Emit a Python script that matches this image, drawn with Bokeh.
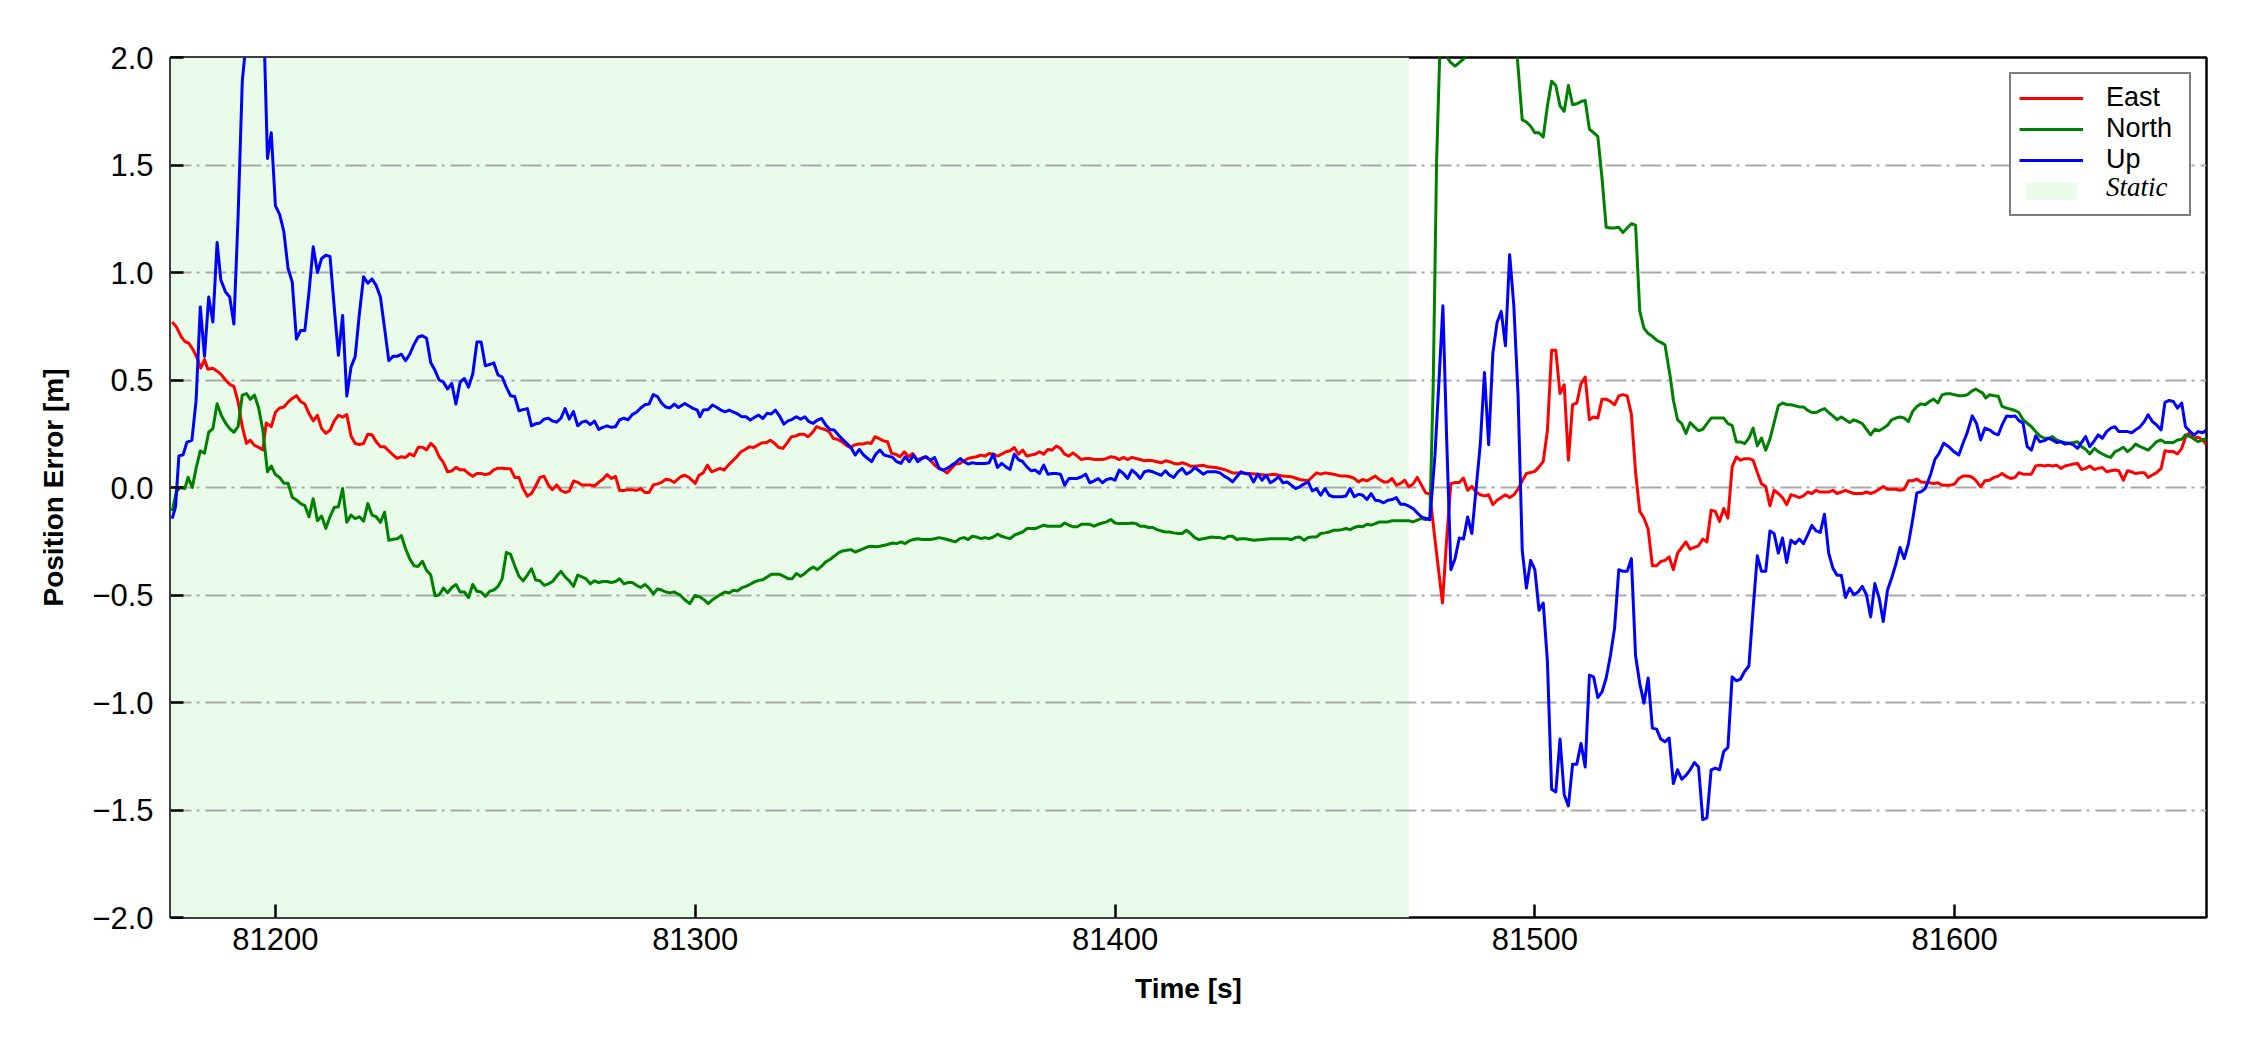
from bokeh.plotting import figure
from bokeh.models import (FixedTicker, CustomJSTickFormatter, Legend, LegendItem, Range1d)
from bokeh.embed import file_html
from bokeh.resources import INLINE

# ---------------- data ----------------
x_lim = [81175, 81660]
y_lim = [-2.0, 2.0]
x_ticks = [81200, 81300, 81400, 81500, 81600]
y_ticks = [-2.0, -1.5, -1.0, -0.5, 0.0, 0.5, 1.0, 1.5, 2.0]
static_span = [81175, 81470]
series_names = ["East", "North", "Up"]
series_colors = ["#ff0000", "#008000", "#0000ff"]
static_label = "Static"

east_t = [81175.4, 81176.4, 81177.6, 81178.4, 81179.4, 81180.4, 81181.4, 81182.2, 81183.1, 81183.9,
          81185.1, 81186.2, 81187.1, 81188.1, 81189.1, 81190.1, 81191.1, 81192.1, 81193.1, 81194,
          81195, 81196, 81197, 81197.8, 81199] + list(range(81200, 81296)) + [
          81296.5, 81297.5, 81298.5, 81300, 81300.9, 81301.9, 81302.9, 81303.9, 81304.9, 81305.9,
          81306.9, 81307.9, 81308.9, 81309.9, 81310.9, 81311.9, 81312.9, 81313.9, 81314.9, 81315.9,
          81316.9, 81317.9, 81318.9, 81319.9, 81320.9, 81321.9, 81322.9, 81323.9, 81324.9, 81325.9,
          81326.9, 81327.9, 81328.9, 81329.9, 81330.9, 81331.9, 81332.9, 81333.9, 81334.9, 81335.9,
          81336.9, 81337.9, 81338.9, 81339.9, 81340.9, 81341.9, 81342.8, 81343.8, 81344.8, 81345.8,
          81346.8, 81347.7, 81348.8, 81349.8, 81350.8, 81351.8, 81352.8, 81353.8, 81354.7, 81355.8,
          81356.7] + list(range(81357, 81419)) + [
          81419, 81421, 81422, 81424, 81426, 81428, 81430, 81432, 81434, 81436, 81438, 81440, 81442,
          81444] + list(range(81446, 81476)) + [81476.2, 81478] + list(range(81479, 81592)) + [
          81592, 81594] + list(range(81595, 81606)) + [
          81606.2, 81607.2, 81608.3, 81609.4, 81610.4, 81611.3, 81612.4, 81613.4, 81614.4, 81615.3,
          81616.3, 81617.3, 81618.3, 81619.3, 81620.3, 81621.4, 81622.3, 81623.3, 81624.3, 81625.3,
          81626.3, 81627.2, 81628.3, 81629.3, 81630.2, 81631.2, 81632.2, 81633.3, 81634.2, 81635.2,
          81636.2, 81637.2, 81638.2, 81639.1, 81640.2, 81641.2, 81642.2, 81643.1, 81644.2, 81645.2,
          81646.1, 81647.1, 81648.1, 81649.2, 81650.1, 81651.1, 81652.1, 81653.1, 81654.1, 81655,
          81656.1, 81657.1, 81658, 81659.1, 81660]
east_v = [0.77, 0.747, 0.70, 0.68, 0.67, 0.64, 0.60, 0.555, 0.595, 0.55,
          0.555, 0.54, 0.525, 0.50, 0.48, 0.47, 0.40, 0.283, 0.205, 0.22,
          0.196, 0.187, 0.175, 0.30, 0.283,
          # 81200..81295
          0.35, 0.37, 0.374, 0.397, 0.414, 0.427, 0.40, 0.388, 0.344, 0.31,
          0.336, 0.274, 0.252, 0.266, 0.31, 0.336, 0.327, 0.339, 0.24, 0.205,
          0.20, 0.205, 0.248, 0.245, 0.213, 0.19, 0.19, 0.17, 0.152, 0.135,
          0.143, 0.14, 0.157, 0.147, 0.187, 0.187, 0.175, 0.205, 0.187, 0.143,
          0.117, 0.073, 0.077, 0.094, 0.082, 0.082, 0.065, 0.052, 0.065, 0.065,
          0.06, 0.065, 0.082, 0.09, 0.09, 0.087, 0.087, 0.047, 0.047, -0.005,
          -0.04, -0.028, 0.007, 0.047, 0.052, 0.012, -0.01, 0.012, -0.014, -0.023,
          -0.017, 0.03, 0.024, 0.012, 0.012, 0.012, 0.007, 0.024, 0.038, 0.06,
          0.042, 0.052, -0.014, -0.014, -0.01, -0.01, -0.014, -0.005, -0.023, -0.023,
          0.012, 0.017, 0.024, 0.038, 0.035, 0.024,
          # 81296.5..81356.7
          0.05, 0.057, 0.047, 0.019, 0.057, 0.068, 0.104, 0.073, 0.081, 0.089,
          0.081, 0.104, 0.124, 0.143, 0.166, 0.177, 0.189, 0.186, 0.197, 0.208,
          0.208, 0.22, 0.205, 0.186, 0.182, 0.208, 0.236, 0.239, 0.248, 0.248,
          0.236, 0.255, 0.283, 0.275, 0.27, 0.259, 0.228, 0.224, 0.213, 0.197,
          0.186, 0.197, 0.202, 0.202, 0.208, 0.205, 0.236, 0.228, 0.217, 0.213,
          0.158, 0.155, 0.143, 0.166, 0.143, 0.158, 0.13, 0.135, 0.143, 0.13,
          0.112,
          # 81357..81418
          0.104, 0.089, 0.081, 0.068, 0.089, 0.109, 0.112, 0.124, 0.135, 0.14,
          0.143, 0.151, 0.146, 0.158, 0.155, 0.146, 0.155, 0.166, 0.171, 0.186,
          0.155, 0.174, 0.146, 0.151, 0.155, 0.166, 0.155, 0.177, 0.174, 0.193,
          0.182, 0.155, 0.146, 0.161, 0.146, 0.13, 0.135, 0.135, 0.13, 0.13,
          0.13, 0.135, 0.143, 0.14, 0.13, 0.14, 0.13, 0.14, 0.135, 0.13,
          0.124, 0.127, 0.124, 0.12, 0.115, 0.124, 0.12, 0.112, 0.109, 0.115,
          0.109, 0.099,
          # 81419..81444
          0.099, 0.104, 0.096, 0.093, 0.084, 0.068, 0.068, 0.065, 0.062, 0.057, 0.062, 0.053, 0.05,
          0.037,
          # 81446..81475
          0.031, 0.05, 0.068, 0.062, 0.068, 0.065, 0.062, 0.057, 0.053, 0.053,
          0.05, 0.042, 0.026, 0.037, 0.031, 0.042, 0.053, 0.037, 0.026, 0.026,
          0.042, 0.011, 0.019, 0.034, 0.003, 0.016, 0.047, 0.011, -0.025, -0.03,
          -0.24, -0.537,
          # 81479..81591
          -0.24, 0.018, 0.023, 0.023, 0.044, -0.013, 0.005, -0.021, -0.034, -0.039,
          -0.034, -0.08, -0.059, -0.047, -0.034, -0.047, -0.034, -0.008, 0.031, 0.065,
          0.07, 0.075, 0.096, 0.121, 0.264, 0.638, 0.638, 0.437, 0.478, 0.127,
          0.385, 0.393, 0.483, 0.514, 0.315, 0.328, 0.323, 0.411, 0.411, 0.40,
          0.385, 0.426, 0.432, 0.426, 0.341, 0.07, -0.111, -0.142, -0.194, -0.364,
          -0.364, -0.344, -0.339, -0.323, -0.382, -0.305, -0.279, -0.253, -0.287, -0.279,
          -0.271, -0.24, -0.253, -0.106, -0.111, -0.158, -0.098, -0.142, 0.096, 0.142,
          0.127, 0.134, 0.134, 0.127, 0.07, 0.018, 0.005, -0.085, -0.013, -0.028,
          -0.047, -0.08, -0.034, -0.039, -0.047, -0.039, -0.021, -0.028, -0.013, -0.021,
          -0.021, -0.021, -0.013, -0.028, -0.021, -0.013, -0.021, -0.028, -0.028, -0.028,
          -0.021, -0.028, -0.021, -0.008, 0.005, -0.008, -0.008, -0.008, -0.013, -0.008,
          0.031, 0.031, 0.039,
          0.026, 0.022,
          # 81595..81605
          0.019, 0.022, 0.011, 0.011, 0.011, 0.016, 0.042, 0.053, 0.053, 0.05, 0.034,
          # 81606.2..81660
          0.003, 0.031, 0.034, 0.047, 0.053, 0.065, 0.05, 0.042, 0.047, 0.069,
          0.062, 0.062, 0.062, 0.1, 0.104, 0.1, 0.104, 0.1, 0.104, 0.089,
          0.1, 0.104, 0.109, 0.112, 0.084, 0.089, 0.1, 0.084, 0.089, 0.093,
          0.073, 0.078, 0.081, 0.078, 0.034, 0.078, 0.073, 0.065, 0.069, 0.069,
          0.047, 0.058, 0.069, 0.089, 0.171, 0.167, 0.167, 0.156, 0.182, 0.234,
          0.26, 0.229, 0.234, 0.221, 0.198]

north_t = [81175.4, 81176.4, 81177.3, 81178.4, 81179.2, 81180.2, 81181.1, 81182.1, 81183.1, 81184.1,
           81185.1, 81186.1, 81187.1, 81188.1, 81189.1, 81190.1, 81191.1, 81192.1, 81193.1, 81194,
           81195, 81196, 81197, 81198.1, 81199] + list(range(81200, 81296)) + [
           81296.5, 81297.5, 81298.7, 81299.9, 81301.1, 81302.1, 81303.1, 81304.1, 81305.1, 81306.1,
           81307.1, 81308.1, 81309.1, 81310.1, 81311.1, 81312.1, 81313.1, 81314.1, 81315.1, 81316.1,
           81317.1, 81318.1, 81319.1, 81320.1, 81321.1, 81322.1, 81323.1, 81324.1, 81325.1, 81326.1,
           81327.1, 81328.1, 81329.1, 81330.1, 81331.1, 81332.1, 81333.1, 81334.1, 81335.1, 81336.1,
           81337.1, 81338.1, 81339.1, 81340.1, 81341.1] + list(range(81342, 81358)) + [
           81358.1, 81360, 81362] + list(range(81363, 81422)) + list(range(81423, 81432)) + [
           81433, 81435, 81437, 81439] + list(range(81441, 81476)) + [
           81475.8, 81476.6, 81477.4, 81478.5, 81479.8, 81481, 81482.2, 81483.4, 81485, 81490, 81494,
           81495.7] + list(range(81497, 81532)) + [81532.3] + list(range(81533, 81606)) + [
           81606.7, 81607.4, 81608.3, 81609.4, 81610.4, 81611.3, 81612.4, 81613.4, 81614.4, 81615.3,
           81616.3, 81617.3, 81618.3, 81619.3, 81620.3, 81621.4, 81622.3, 81623.3, 81624.3, 81625.3,
           81626.3, 81627.2, 81628.3, 81629.3, 81630.2, 81631.2, 81632.2, 81633.3, 81634.2, 81635.2,
           81636.2, 81637.2, 81638.2, 81639.1, 81640.2, 81641.2, 81642.2, 81643.1, 81644.2, 81645.2,
           81646.1, 81647.1, 81648.1, 81649.2, 81650.1, 81651.1, 81652.1, 81653.1, 81654.1, 81655,
           81656.1, 81657.1, 81658, 81659.1, 81660]
north_v = [-0.11, -0.02, 0.0, -0.005, 0.047, 0.0, 0.09, 0.17, 0.16, 0.257,
           0.274, 0.39, 0.336, 0.30, 0.274, 0.257, 0.283, 0.43, 0.437, 0.41,
           0.43, 0.37, 0.266, 0.073, 0.10,
           # 81200..81295
           0.06, 0.047, 0.02, 0.02, -0.045, -0.058, -0.075, -0.084, -0.136, -0.052,
           -0.154, -0.133, -0.19, -0.136, -0.093, -0.09, -0.005, -0.162, -0.128, -0.145,
           -0.136, -0.157, -0.075, -0.128, -0.136, -0.162, -0.115, -0.245, -0.241, -0.238,
           -0.224, -0.285, -0.332, -0.364, -0.367, -0.343, -0.385, -0.407, -0.503, -0.50,
           -0.468, -0.49, -0.465, -0.451, -0.486, -0.486, -0.512, -0.451, -0.483, -0.486,
           -0.507, -0.483, -0.477, -0.46, -0.425, -0.302, -0.311, -0.364, -0.413, -0.434,
           -0.407, -0.378, -0.43, -0.434, -0.455, -0.448, -0.437, -0.413, -0.39, -0.416,
           -0.434, -0.46, -0.407, -0.416, -0.425, -0.448, -0.434, -0.442, -0.437, -0.437,
           -0.442, -0.437, -0.425, -0.448, -0.442, -0.442, -0.455, -0.465, -0.451, -0.468,
           -0.495, -0.472, -0.477, -0.486, -0.49, -0.486,
           # 81296.5..81341.1
           -0.502, -0.522, -0.54, -0.502, -0.509, -0.522, -0.54, -0.522, -0.509, -0.497,
           -0.486, -0.491, -0.478, -0.481, -0.466, -0.46, -0.45, -0.439, -0.432, -0.429,
           -0.416, -0.404, -0.404, -0.404, -0.413, -0.424, -0.424, -0.40, -0.413, -0.40,
           -0.382, -0.37, -0.382, -0.366, -0.346, -0.335, -0.32, -0.304, -0.295, -0.292,
           -0.289, -0.30, -0.292, -0.284, -0.276,
           # 81342..81357
           -0.273, -0.276, -0.273, -0.269, -0.264, -0.258, -0.261, -0.253, -0.261, -0.248,
           -0.242, -0.238, -0.242, -0.242, -0.242, -0.238,
           -0.233, -0.242, -0.253,
           # 81363..81421
           -0.238, -0.233, -0.242, -0.227, -0.23, -0.238, -0.233, -0.238, -0.23, -0.217,
           -0.227, -0.233, -0.238, -0.222, -0.214, -0.207, -0.191, -0.191, -0.191, -0.183,
           -0.175, -0.18, -0.18, -0.18, -0.18, -0.165, -0.175, -0.183, -0.183, -0.171,
           -0.171, -0.171, -0.18, -0.171, -0.165, -0.16, -0.149, -0.165, -0.168, -0.168,
           -0.168, -0.165, -0.168, -0.18, -0.18, -0.186, -0.186, -0.196, -0.202, -0.207,
           -0.207, -0.211, -0.214, -0.214, -0.199, -0.214, -0.233, -0.242, -0.238,
           # 81423..81431
           -0.23, -0.233, -0.233, -0.238, -0.227, -0.227, -0.242, -0.238, -0.238,
           -0.245, -0.242, -0.238, -0.238,
           # 81441..81475
           -0.238, -0.242, -0.233, -0.23, -0.245, -0.233, -0.23, -0.23, -0.214, -0.211,
           -0.207, -0.199, -0.199, -0.196, -0.191, -0.196, -0.186, -0.18, -0.183, -0.171,
           -0.175, -0.168, -0.16, -0.16, -0.16, -0.155, -0.155, -0.155, -0.155, -0.155,
           -0.16, -0.152, -0.144, -0.149, -0.14,
           # jump
           0.483, 1.517, 2.05, 2.02, 1.98, 1.96, 1.98, 2.0, 2.2, 2.4, 2.2, 2.03,
           # 81497..81531
           1.71, 1.70, 1.68, 1.65, 1.65, 1.63, 1.775, 1.89, 1.87, 1.775,
           1.75, 1.87, 1.78, 1.785, 1.795, 1.80, 1.667, 1.65, 1.633, 1.44,
           1.21, 1.207, 1.207, 1.21, 1.186, 1.207, 1.227, 1.22, 0.82, 0.74,
           0.716, 0.703, 0.685, 0.675, 0.664,
           0.509,
           # 81533..81605
           0.406, 0.315, 0.297, 0.251, 0.302, 0.282, 0.264, 0.271, 0.297, 0.323,
           0.323, 0.323, 0.323, 0.297, 0.289, 0.212, 0.212, 0.204, 0.23, 0.276,
           0.194, 0.23, 0.173, 0.225, 0.302, 0.38, 0.393, 0.385, 0.385, 0.38,
           0.375, 0.375, 0.359, 0.349, 0.349, 0.359, 0.367, 0.349, 0.333, 0.315,
           0.328, 0.315, 0.302, 0.315, 0.307, 0.297, 0.271, 0.245, 0.271, 0.264,
           0.276, 0.289, 0.315, 0.323, 0.328, 0.323, 0.307, 0.354, 0.377, 0.389,
           0.385, 0.40, 0.411, 0.393, 0.431, 0.436, 0.436, 0.431, 0.427, 0.427,
           0.431, 0.447, 0.458,
           # 81606.7..81660
           0.439, 0.416, 0.431, 0.427, 0.424, 0.377, 0.369, 0.364, 0.358, 0.349,
           0.315, 0.299, 0.283, 0.26, 0.24, 0.229, 0.229, 0.237, 0.221, 0.213,
           0.209, 0.206, 0.209, 0.213, 0.19, 0.178, 0.156, 0.182, 0.167, 0.156,
           0.146, 0.14, 0.167, 0.174, 0.187, 0.167, 0.182, 0.202, 0.19, 0.182,
           0.174, 0.193, 0.213, 0.221, 0.209, 0.209, 0.209, 0.221, 0.224, 0.245,
           0.237, 0.224, 0.213, 0.221, 0.229]

up_t = [81175.4, 81176.2, 81177, 81178, 81178.9, 81180.1, 81181.1, 81182.1, 81183.1, 81184.1,
        81185.1, 81186.1, 81187, 81188.1, 81189.1, 81190.1, 81191.1, 81192.1, 81192.9, 81195,
        81197.4, 81198.1, 81199] + list(range(81200, 81297)) + [
        81297.5, 81298.5, 81299.5, 81300.5, 81301.1, 81301.9, 81303.1, 81304.1, 81305.1, 81306.1,
        81307.1, 81308.1, 81309.1, 81310.1, 81311.1, 81312.1, 81313.1, 81314.1, 81315.1, 81316.1,
        81317.1, 81318.1, 81319.1, 81320.1, 81321.1, 81322.1, 81323.1, 81324.1, 81325.1, 81326.1,
        81327.1, 81328.1, 81329.1, 81330.1, 81331.1, 81332.1, 81333.1, 81334.1, 81335.1, 81336.1,
        81337.1, 81338.1, 81339.1, 81340.1, 81341.1] + list(range(81342, 81358)) + [
        81358.1, 81359.1, 81360, 81361.1, 81362, 81363.1] + list(range(81364, 81476)) + [
        81476.2, 81477.2, 81478.1] + list(range(81479, 81594)) + [
        81594.3, 81595.3, 81596.3, 81597.4, 81598.6, 81599.8, 81601, 81602, 81603, 81604.2,
        81605.2, 81606.2, 81607.2, 81608.3, 81609.4, 81610.4, 81611.3, 81612.4, 81613.4, 81614.4,
        81615.3, 81616.3, 81617.3, 81618.3, 81619.3, 81620.3, 81621.4, 81622.3, 81623.3, 81624.3,
        81625.3, 81626.3, 81627.2, 81628.3, 81629.3, 81630.2, 81631.2, 81632.2, 81633.3, 81634.2,
        81635.2, 81636.2, 81637.2, 81638.2, 81639.1, 81640.2, 81641.2, 81642.2, 81643.1, 81644.2,
        81645.2, 81646.1, 81647.1, 81648.1, 81649.2, 81650.1, 81651.1, 81652.1, 81653.1, 81654.1,
        81655, 81656.1, 81657.1, 81658, 81659.1, 81660]
up_v = [-0.145, -0.09, 0.147, 0.152, 0.21, 0.22, 0.405, 0.84, 0.61, 0.886,
        0.77, 1.14, 0.965, 0.91, 0.886, 0.76, 1.26, 1.89, 2.05, 2.4,
        2.03, 1.53, 1.65,
        # 81200..81296
        1.31, 1.27, 1.19, 1.02, 0.955, 0.69, 0.73, 0.73, 0.91, 1.12,
        1.0, 1.065, 1.08, 1.075, 0.84, 0.615, 0.80, 0.425, 0.56, 0.61,
        0.81, 0.98, 0.95, 0.97, 0.94, 0.886, 0.74, 0.59, 0.61, 0.61,
        0.62, 0.59, 0.62, 0.665, 0.70, 0.706, 0.694, 0.58, 0.545, 0.50,
        0.49, 0.458, 0.484, 0.388, 0.49, 0.507, 0.467, 0.528, 0.677, 0.677,
        0.566, 0.572, 0.58, 0.524, 0.514, 0.467, 0.427, 0.423, 0.357, 0.362,
        0.367, 0.287, 0.297, 0.30, 0.318, 0.322, 0.309, 0.304, 0.322, 0.367,
        0.318, 0.353, 0.287, 0.304, 0.309, 0.292, 0.309, 0.27, 0.28, 0.287,
        0.28, 0.283, 0.315, 0.322, 0.315, 0.339, 0.35, 0.37, 0.385, 0.388,
        0.432, 0.423, 0.392, 0.374, 0.37, 0.388, 0.372,
        # 81297.5..81341.1
        0.391, 0.379, 0.368, 0.36, 0.329, 0.36, 0.363, 0.384, 0.373, 0.36,
        0.352, 0.36, 0.351, 0.342, 0.329, 0.329, 0.314, 0.326, 0.337, 0.321,
        0.345, 0.342, 0.36, 0.332, 0.295, 0.31, 0.317, 0.329, 0.317, 0.329,
        0.306, 0.298, 0.314, 0.321, 0.29, 0.27, 0.267, 0.244, 0.224, 0.205,
        0.186, 0.151, 0.177, 0.151, 0.135,
        # 81342..81357
        0.12, 0.155, 0.174, 0.151, 0.146, 0.14, 0.12, 0.112, 0.143, 0.12,
        0.151, 0.12, 0.135, 0.143, 0.127, 0.14,
        0.089, 0.081, 0.089, 0.104, 0.115, 0.135,
        # 81364..81475
        0.12, 0.109, 0.115, 0.112, 0.112, 0.112, 0.115, 0.155, 0.093, 0.112,
        0.096, 0.084, 0.155, 0.13, 0.12, 0.096, 0.078, 0.081, 0.065, 0.104,
        0.062, 0.065, 0.065, 0.062, 0.011, 0.042, 0.042, 0.042, 0.05, 0.062,
        0.022, 0.031, 0.042, 0.022, 0.037, 0.042, 0.034, 0.081, 0.065, 0.042,
        0.081, 0.065, 0.042, 0.073, 0.078, 0.073, 0.065, 0.057, 0.078, 0.057,
        0.047, 0.073, 0.089, 0.062, 0.073, 0.093, 0.078, 0.062, 0.073, 0.073,
        0.073, 0.068, 0.053, 0.042, 0.026, 0.05, 0.073, 0.065, 0.062, 0.026,
        0.062, 0.034, 0.057, 0.022, 0.034, 0.05, 0.022, 0.026, 0.011, -0.005,
        0.003, 0.016, 0.026, -0.016, -0.005, -0.036, -0.005, -0.036, -0.043, -0.043,
        -0.043, -0.04, -0.005, -0.043, -0.031, -0.036, -0.056, -0.028, -0.059, -0.062,
        -0.071, -0.059, -0.056, -0.047, -0.078, -0.078, -0.087, -0.098, -0.118, -0.137,
        -0.144, -0.15,
        0.147, 0.509, 0.845,
        # 81479..81593
        0.225, -0.382, -0.331, -0.235, -0.24, -0.137, -0.214, -0.008, 0.199, 0.535,
        0.199, 0.625, 0.767, 0.819, 0.659, 1.083, 0.845, 0.432, -0.292, -0.468,
        -0.339, -0.382, -0.571, -0.537, -0.809, -1.403, -1.416, -1.17, -1.429, -1.481,
        -1.287, -1.287, -1.19, -1.30, -0.873, -0.881, -0.977, -0.951, -0.886, -0.783,
        -0.654, -0.382, -0.39, -0.39, -0.331, -0.783, -0.912, -1.003, -0.886, -1.119,
        -1.124, -1.17, -1.183, -1.165, -1.377, -1.313, -1.357, -1.339, -1.313, -1.279,
        -1.30, -1.545, -1.537, -1.313, -1.305, -1.313, -1.227, -1.209, -0.881, -0.899,
        -0.891, -0.855, -0.829, -0.563, -0.318, -0.39, -0.39, -0.202, -0.214, -0.305,
        -0.235, -0.349, -0.245, -0.261, -0.24, -0.261, -0.22, -0.176, -0.202, -0.209,
        -0.124, -0.305, -0.375, -0.408, -0.408, -0.512, -0.468, -0.499, -0.486, -0.46,
        -0.499, -0.602, -0.447, -0.512, -0.623, -0.478, -0.421, -0.357, -0.279, -0.331,
        -0.261, -0.15, -0.025, -0.02, -0.005,
        # 81594.3..81660
        0.062, 0.131, 0.159, 0.206, 0.19, 0.167, 0.151, 0.206, 0.255, 0.333,
        0.299, 0.221, 0.276, 0.268, 0.252, 0.245, 0.291, 0.333, 0.33, 0.333,
        0.312, 0.299, 0.19, 0.174, 0.24, 0.213, 0.218, 0.229, 0.221, 0.209,
        0.213, 0.202, 0.206, 0.198, 0.182, 0.209, 0.237, 0.19, 0.218, 0.245,
        0.229, 0.26, 0.276, 0.283, 0.26, 0.26, 0.26, 0.255, 0.268, 0.283,
        0.307, 0.338, 0.307, 0.291, 0.268, 0.396, 0.405, 0.40, 0.369, 0.393,
        0.283, 0.26, 0.245, 0.26, 0.255, 0.268]

series_t = [east_t, north_t, up_t]
series_v = [east_v, north_v, up_v]

# ---------------- layout ----------------
W, H = 2234, 1034
ML, MR, MT, MB = 170, 28, 57, 117
FONT = "Liberation Sans"

p = figure(width=W, height=H, x_range=Range1d(*x_lim), y_range=Range1d(*y_lim),
           output_backend="svg", toolbar_location=None,
           min_border_left=ML, min_border_right=MR, min_border_top=MT, min_border_bottom=MB)
p.background_fill_color = "white"
p.border_fill_color = "white"
p.outline_line_color = "black"
p.outline_line_width = 2.5

# static span
r_static = p.quad(left=[static_span[0]], right=[static_span[1]],
                  bottom=[y_lim[0]], top=[y_lim[1]],
                  fill_color="#e9fce9", line_color=None, level="image")

renderers = []
for t, v, c in zip(series_t, series_v, series_colors):
    r = p.line(t, v, line_color=c, line_width=3, line_join="round")
    renderers.append(r)

# invisible renderer used only for the italic legend text overlay
r_blank = p.line(x=[], y=[], line_alpha=0)

# grid
p.xgrid.grid_line_color = None
p.ygrid.grid_line_color = "#a9a9a9"
p.ygrid.grid_line_width = 2
p.ygrid.grid_line_dash = "21 5 3 6"
p.ygrid.level = "underlay"

# axes
for ax in (p.xaxis[0], p.yaxis[0]):
    ax.axis_line_color = None
    ax.major_tick_in = 13
    ax.major_tick_out = 0
    ax.major_tick_line_width = 2.5
    ax.major_tick_line_color = "black"
    ax.minor_tick_line_color = None
    ax.major_label_text_font = FONT
    ax.major_label_text_font_size = "31px"
    ax.major_label_text_color = "black"
    ax.axis_label_text_font = FONT
    ax.axis_label_text_font_style = "bold"
    ax.axis_label_text_font_size = "28px"
    ax.axis_label_text_color = "black"

p.xaxis.ticker = FixedTicker(ticks=x_ticks)
p.xaxis.formatter = CustomJSTickFormatter(code="return tick.toFixed(0);")
p.xaxis.axis_label = "Time [s]"
p.xaxis.major_label_standoff = 10
p.xaxis.axis_label_standoff = 20

p.yaxis.ticker = FixedTicker(ticks=y_ticks)
p.yaxis.formatter = CustomJSTickFormatter(code="return tick.toFixed(1).replace('-', '\u2212');")
p.yaxis.axis_label = "Position Error [m]"
p.yaxis.major_label_standoff = 17
p.yaxis.axis_label_standoff = 20

# legend (second legend only carries the italic serif "Static" text on row 4)
common = dict(location="top_right", margin=15, padding=8, spacing=0,
              glyph_width=64, glyph_height=22, label_standoff=23,
              label_text_font_size="27px", label_text_color="black")

items = [LegendItem(label=n, renderers=[r]) for n, r in zip(series_names, renderers)]
items.append(LegendItem(label=" ", renderers=[r_static]))
legend = Legend(items=items, label_text_font=FONT, label_width=75, label_height=31,
                border_line_color="black", border_line_width=2.5,
                background_fill_color="white", background_fill_alpha=1.0, **common)
p.add_layout(legend)

items2 = [LegendItem(label=" ", renderers=[r_blank]) for _ in series_names]
items2.append(LegendItem(label=static_label, renderers=[r_blank]))
legend2 = Legend(items=items2, label_text_font="Liberation Serif", label_text_font_style="italic",
                 label_width=85, label_height=33,
                 border_line_color=None, background_fill_alpha=0.0, **common)
p.add_layout(legend2)

with open("out.html", "w", encoding="utf-8") as f:
    f.write(file_html(p, INLINE))
